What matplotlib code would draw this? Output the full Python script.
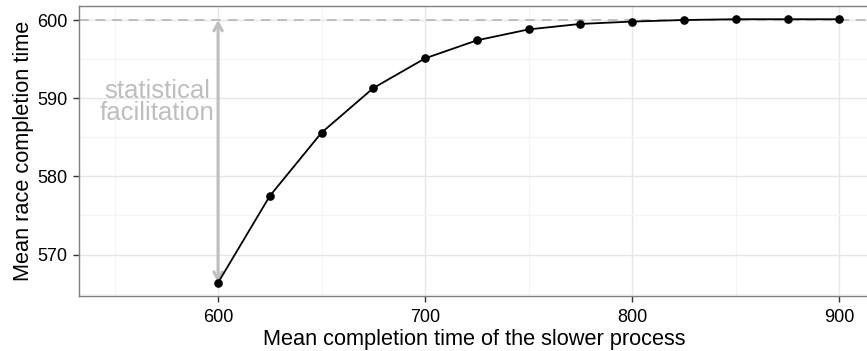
import matplotlib
matplotlib.use("Agg")
import matplotlib.pyplot as plt
from matplotlib.ticker import MultipleLocator

plt.rcParams['font.family'] = ['Liberation Sans', 'DejaVu Sans']

slow_means = [600, 625, 650, 675, 700, 725, 750, 775, 800, 825, 850, 875, 900]
race_means = [566.4, 577.5, 585.6, 591.3, 595.1, 597.4, 598.8, 599.5, 599.8, 600.0, 600.1, 600.1, 600.1]
baseline = 600
label_text = "statistical\nfacilitation"
label_x = 570.5
label_y = 589.5
x_ticks = [600, 700, 800, 900]
y_ticks = [570, 580, 590, 600]

fig = plt.figure(figsize=(8.67, 3.51), dpi=100)
ax = fig.add_axes([78.7 / 867, (351 - 295.7) / 351, (870 - 78.7) / 867, (295.7 - 5.7) / 351])

ax.set_xlim(532.7, 600 + (870 - 217.7) / 2.072)
ax.set_ylim(564.74, 601.83)

ax.xaxis.set_minor_locator(MultipleLocator(50))
ax.yaxis.set_minor_locator(MultipleLocator(5))
ax.set_xticks(x_ticks)
ax.set_yticks(y_ticks)
ax.grid(which='major', color='#E6E6E6', linewidth=1.0, zorder=0)
ax.grid(which='minor', color='#F4F4F4', linewidth=0.8, zorder=0)
ax.set_axisbelow(True)

ax.axhline(baseline, color='#BEBEBE', linestyle=(0, (5, 3.5)), linewidth=1.4, zorder=1)

ax.annotate('', xy=(slow_means[0], race_means[0]), xytext=(slow_means[0], baseline),
            arrowprops=dict(arrowstyle='<->,head_length=0.55,head_width=0.3',
                            color='#BEBEBE', linewidth=2.2, shrinkA=0, shrinkB=0),
            zorder=2)

ax.plot(slow_means, race_means, color='black', linewidth=1.3, marker='o',
        markersize=5.2, zorder=3)

ax.text(label_x, label_y, label_text, color='#BEBEBE', fontsize=18.5,
        ha='center', va='center', linespacing=0.9)

for s in ax.spines.values():
    s.set_color('#7F7F7F')
    s.set_linewidth(1.0)

ax.tick_params(which='major', direction='out', length=4.5, width=1.0, color='#333333',
               labelsize=13, labelcolor='black', pad=3.5)
ax.tick_params(axis='x', which='major', pad=5)
ax.tick_params(which='minor', length=0)

ax.set_xlabel('Mean completion time of the slower process', fontsize=15.7, labelpad=2)
ax.set_ylabel('Mean race completion time', fontsize=15.7, labelpad=2)

fig.savefig('out.png', dpi=100)
